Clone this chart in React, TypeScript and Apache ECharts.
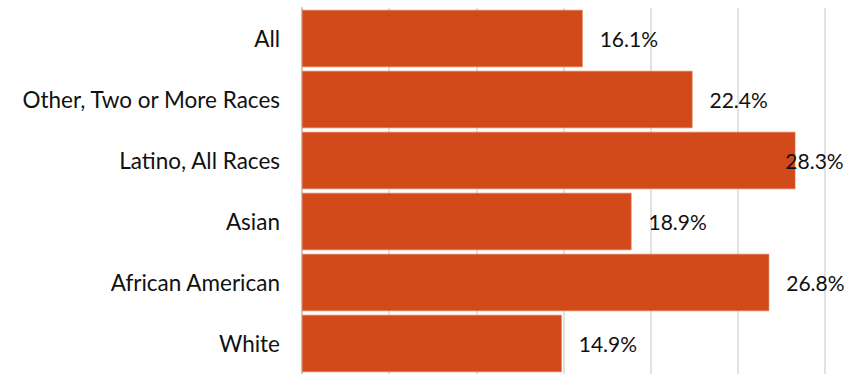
import React, { useEffect, useRef } from "react";
import * as echarts from "echarts";

const categories = ["White", "African American", "Asian", "Latino, All Races", "Other, Two or More Races", "All"];
const values = [14.9, 26.8, 18.9, 28.3, 22.4, 16.1];
const xTicks = [0, 5, 10, 15, 20, 25, 30];

export default function App() {
  const ref = useRef<HTMLDivElement>(null);
  useEffect(() => {
    document.body.style.margin = "0";
    const chart = echarts.init(ref.current!, undefined, { renderer: "svg" });
    const font = "Lato, 'Open Sans', sans-serif";
    chart.setOption({
      animation: false,
      grid: { left: 302, right: 23, top: 8, bottom: -6, containLabel: false },
      xAxis: {
        type: "value",
        min: xTicks[0],
        max: xTicks[xTicks.length - 1],
        interval: 5,
        axisLabel: { show: false },
        axisLine: { show: false },
        axisTick: { show: false },
        splitLine: { show: true, lineStyle: { color: "#d9d9d9", width: 1.5 } },
      },
      yAxis: {
        type: "category",
        data: categories,
        axisLine: { show: true, lineStyle: { color: "#c8c8c8", width: 2 } },
        axisTick: { show: false },
        axisLabel: { color: "#111", fontSize: 22.5, fontFamily: font, margin: 22 },
        splitLine: { show: false },
      },
      series: [
        {
          type: "bar",
          barCategoryGap: "6%",
          data: values.map((v) => ({
            value: v,
            label: v === 28.3 ? { offset: [-27, 0] } : undefined,
          })),
          itemStyle: { color: "#D24A19", borderColor: "#e07a50", borderWidth: 0.6 },
          label: {
            show: true,
            position: "right",
            distance: 17,
            color: "#111",
            fontSize: 21,
            fontFamily: font,
            formatter: (p: any) => p.value.toFixed(1) + "%",
          },
        },
      ],
    });
    return () => chart.dispose();
  }, []);
  return <div ref={ref} style={{ width: 848, height: 374, position: "absolute", left: 0, top: 0 }} />;
}
